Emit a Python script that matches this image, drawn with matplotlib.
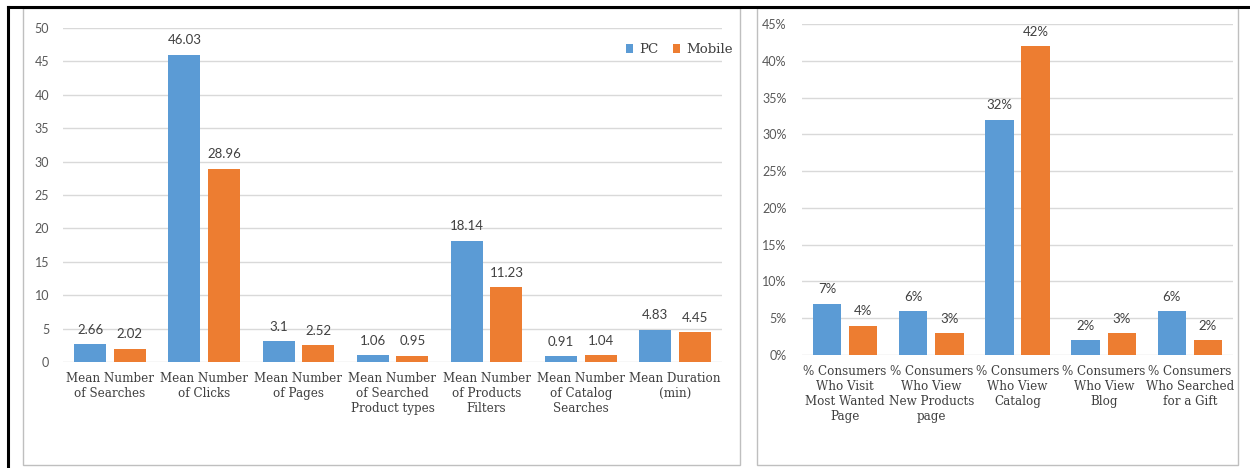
import matplotlib
matplotlib.use("Agg")
import matplotlib.pyplot as plt
from matplotlib.patches import Rectangle
from matplotlib.lines import Line2D
from matplotlib.ticker import FuncFormatter
import numpy as np

# ---- data ----
left_categories = ["Mean Number\nof Searches", "Mean Number\nof Clicks", "Mean Number\nof Pages",
                   "Mean Number\nof Searched\nProduct types", "Mean Number\nof Products\nFilters",
                   "Mean Number\nof Catalog\nSearches", "Mean Duration\n(min)"]
left_pc = [2.66, 46.03, 3.1, 1.06, 18.14, 0.91, 4.83]
left_mobile = [2.02, 28.96, 2.52, 0.95, 11.23, 1.04, 4.45]
left_pc_labels = ["2.66", "46.03", "3.1", "1.06", "18.14", "0.91", "4.83"]
left_mobile_labels = ["2.02", "28.96", "2.52", "0.95", "11.23", "1.04", "4.45"]
left_yticks = [0, 5, 10, 15, 20, 25, 30, 35, 40, 45, 50]

right_categories = ["% Consumers\nWho Visit\nMost Wanted\nPage", "% Consumers\nWho View\nNew Products\npage",
                    "% Consumers\nWho View\nCatalog", "% Consumers\nWho View\nBlog",
                    "% Consumers\nWho Searched\nfor a Gift"]
right_pc = [0.07, 0.06, 0.32, 0.02, 0.06]
right_mobile = [0.04, 0.03, 0.42, 0.03, 0.02]
right_yticks = [0, 0.05, 0.10, 0.15, 0.20, 0.25, 0.30, 0.35, 0.40, 0.45]

series_names = ["PC", "Mobile"]

# ---- style ----
BLUE = "#5B9BD5"
ORANGE = "#ED7D31"
GRID = "#D9D9D9"
TICK_C = "#595959"
LABEL_C = "#404040"
SANS = ["Lato", "DejaVu Sans"]
SERIF = ["DejaVu Serif"]

W, H = 1250, 468
fig = plt.figure(figsize=(W / 100, H / 100), dpi=100)
fig.patch.set_facecolor("white")


def px_axes(x0, x1, ytop, ybot):
    return fig.add_axes([x0 / W, (H - ybot) / H, (x1 - x0) / W, (ybot - ytop) / H])


# panel borders
fig.add_artist(Rectangle((23 / W, (H - 465) / H), (740 - 23) / W, (465 - 8) / H,
                         transform=fig.transFigure, fill=False, edgecolor="#BFBFBF", lw=1.0))
fig.add_artist(Rectangle((757 / W, (H - 465) / H), (1238 - 757) / W, (465 - 8) / H,
                         transform=fig.transFigure, fill=False, edgecolor="#BFBFBF", lw=1.0))
# outer black lines (top and left)
fig.add_artist(Line2D([8 / W, 1.0], [(H - 7) / H, (H - 7) / H], transform=fig.transFigure,
                      color="black", lw=2.2))
fig.add_artist(Line2D([8 / W, 8 / W], [0, (H - 7) / H], transform=fig.transFigure,
                      color="black", lw=2.2))


def style_axes(ax):
    for s in ax.spines.values():
        s.set_visible(False)
    ax.tick_params(axis="both", length=0)
    ax.grid(axis="y", color=GRID, lw=1.0)
    ax.set_axisbelow(True)
    ax.set_facecolor("none")


# ---- left chart ----
ax1 = px_axes(63, 722, 28, 362)
x = np.arange(len(left_categories))
w = 0.34
off = 0.21
b1 = ax1.bar(x - off, left_pc, w, color=BLUE, label=series_names[0])
b2 = ax1.bar(x + off, left_mobile, w, color=ORANGE, label=series_names[1])
ax1.set_xlim(-0.5, len(left_categories) - 0.5)
ax1.set_ylim(0, 50)
ax1.set_yticks(left_yticks)
style_axes(ax1)
ax1.set_xticks(x)
ax1.set_xticklabels(left_categories, fontfamily=SERIF, fontsize=8.6, color=LABEL_C, linespacing=1.22)
ax1.tick_params(axis="x", pad=7)
ax1.tick_params(axis="y", pad=10, labelsize=9, labelcolor=TICK_C)
for t in ax1.get_yticklabels():
    t.set_fontfamily(SANS)
for bars, labs in ((b1, left_pc_labels), (b2, left_mobile_labels)):
    for r, lab in zip(bars, labs):
        ax1.annotate(lab, (r.get_x() + r.get_width() / 2, r.get_height()), xytext=(0, 6),
                     textcoords="offset points", ha="center", va="bottom",
                     fontsize=9.5, color=LABEL_C, fontfamily=SANS)
ax1.legend(loc="center right", bbox_to_anchor=(1.035, 0.935), ncol=2, frameon=False,
           handlelength=0.55, handleheight=0.55, handletextpad=0.45, columnspacing=1.1,
           prop={"family": SERIF, "size": 9.6}, labelcolor=LABEL_C)

# ---- right chart ----
ax2 = px_axes(802, 1233, 24, 355)
x2 = np.arange(len(right_categories))
w2 = 0.33
off2 = 0.21
c1 = ax2.bar(x2 - off2, right_pc, w2, color=BLUE)
c2 = ax2.bar(x2 + off2, right_mobile, w2, color=ORANGE)
ax2.set_xlim(-0.5, len(right_categories) - 0.5)
ax2.set_ylim(0, 0.45)
ax2.set_yticks(right_yticks)
ax2.yaxis.set_major_formatter(FuncFormatter(lambda v, p: f"{v * 100:.0f}%"))
style_axes(ax2)
ax2.set_xticks(x2)
ax2.set_xticklabels(right_categories, fontfamily=SERIF, fontsize=8.6, color=LABEL_C, linespacing=1.22)
ax2.tick_params(axis="x", pad=7)
ax2.tick_params(axis="y", pad=11, labelsize=9, labelcolor=TICK_C)
for t in ax2.get_yticklabels():
    t.set_fontfamily(SANS)
for bars in (c1, c2):
    for r in bars:
        ax2.annotate(f"{r.get_height() * 100:.0f}%", (r.get_x() + r.get_width() / 2, r.get_height()),
                     xytext=(0, 6), textcoords="offset points", ha="center", va="bottom",
                     fontsize=9.5, color=LABEL_C, fontfamily=SANS)

fig.savefig("out.png", dpi=100)
